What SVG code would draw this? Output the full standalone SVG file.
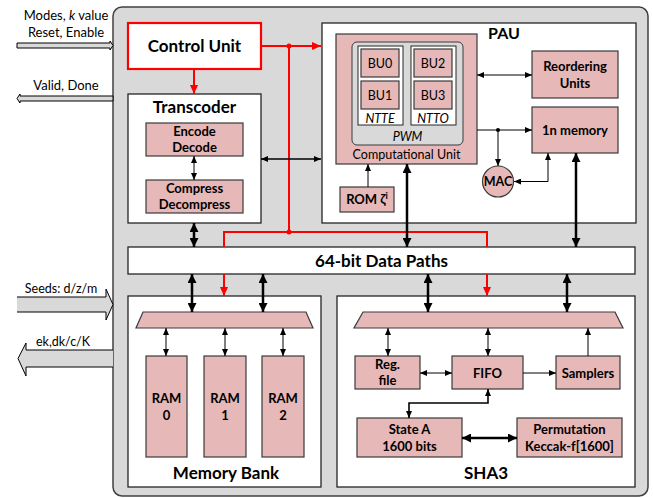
<svg xmlns="http://www.w3.org/2000/svg" width="653" height="498" viewBox="0 0 653 498">
<defs>
<marker id="a" markerUnits="userSpaceOnUse" markerWidth="7" markerHeight="6" refX="7" refY="3" orient="auto-start-reverse"><path d="M0,0 L7,3 L0,6 z" fill="#000"/></marker>
<marker id="ab" markerUnits="userSpaceOnUse" markerWidth="9" markerHeight="9" refX="9" refY="4.5" orient="auto-start-reverse"><path d="M0,0 L9,4.5 L0,9 z" fill="#000"/></marker>
<marker id="ar" markerUnits="userSpaceOnUse" markerWidth="9" markerHeight="8" refX="9" refY="4" orient="auto-start-reverse"><path d="M0,0 L9,4 L0,8 z" fill="#f00"/></marker>
</defs>
<style>
.bg{fill:#d9d9d9;stroke:#404040;stroke-width:1.5}
.wb{fill:#fff;stroke:#262626;stroke-width:1.3}
.pk{fill:#e6b8b7;stroke:#3a3a3a;stroke-width:1.2}
.t{font-family:Lato,"Liberation Sans",sans-serif;fill:#000;text-anchor:middle}
.b{font-weight:bold}
.big{font-size:17px;font-weight:bold}
.sm{font-size:13px;font-weight:bold}
.rg{font-size:12.5px}
.it{font-style:italic;font-size:12.5px}
.th{stroke:#000;stroke-width:1;fill:none}
.tk{stroke:#000;stroke-width:2.5;fill:none}
.md{stroke:#000;stroke-width:1.6;fill:none}
.rd{stroke:#f00;stroke-width:2;fill:none}
.io{fill:#d9d9d9;stroke:#000;stroke-width:1}
</style>

<g id="background">
<rect class="bg" x="113" y="7" width="535" height="489" rx="9"/>
</g>

<g id="io-arrows">
<path class="io" d="M17,43 H110 V41 L113,45.5 L110,50 V48 H17 z"/>
<text class="t rg" x="66" y="20" style="font-size:13px">Modes, <tspan font-style="italic">k</tspan> value</text>
<text class="t rg" x="66" y="37" style="font-size:13px">Reset, Enable</text>
<path class="io" d="M113,96 H20 V94 L17,98.5 L20,103 V101 H113 z"/>
<text class="t rg" x="66" y="90" style="font-size:13px">Valid, Done</text>
<path d="M17,297 H106 V289 L113,304.5 L106,320 V312 H17 z" fill="#d9d9d9"/>
<path class="th" d="M17,297 H106 V289 L113,304.5 L106,320 V312 H17"/>
<text class="t rg" x="61" y="293" style="font-size:12.5px">Seeds: d/z/m</text>
<path d="M113,350 H26 V343 L18,358.5 L26,376 V367 H113 z" fill="#d9d9d9"/>
<path class="th" d="M113,350 H26 V343 L18,358.5 L26,376 V367 H113"/>
<text class="t rg" x="63" y="346" style="font-size:12.5px">ek,dk/c/K</text>
</g>

<g id="control-unit">
<rect x="128" y="23" width="133" height="46" fill="#fff" stroke="#f00" stroke-width="2.2"/>
<text class="t big" x="194.5" y="52">Control Unit</text>
</g>

<g id="transcoder">
<rect class="wb" x="128" y="94" width="133" height="129"/>
<text class="t big" x="194.5" y="113">Transcoder</text>
<rect class="pk" x="146" y="123" width="97" height="33"/>
<text class="t sm" x="194.5" y="136">Encode</text>
<text class="t sm" x="194.5" y="152">Decode</text>
<rect class="pk" x="146" y="180" width="97" height="33"/>
<text class="t sm" x="194.5" y="193">Compress</text>
<text class="t sm" x="194.5" y="209">Decompress</text>
</g>

<g id="pau">
<rect class="wb" x="322" y="23" width="314" height="200"/>
<text class="t" x="504" y="39" style="font-size:16px;font-weight:bold">PAU</text>
</g>

<g id="computational-unit">
<rect class="pk" x="336" y="34" width="141" height="130"/>
<rect x="352" y="42" width="111" height="103" rx="5" fill="#d9d9d9" stroke="#3a3a3a" stroke-width="1"/>
<rect x="358" y="46" width="45" height="79" fill="#fff" stroke="#262626" stroke-width="1"/>
<rect x="411" y="46" width="45" height="79" fill="#fff" stroke="#262626" stroke-width="1"/>
<rect class="pk" x="361" y="49" width="38" height="28"/>
<rect class="pk" x="361" y="81" width="38" height="28"/>
<rect class="pk" x="414" y="49" width="38" height="28"/>
<rect class="pk" x="414" y="81" width="38" height="28"/>
<text class="t rg" x="380" y="67.5">BU0</text>
<text class="t rg" x="380" y="99.5">BU1</text>
<text class="t rg" x="433" y="67.5">BU2</text>
<text class="t rg" x="433" y="99.5">BU3</text>
<text class="t it" x="380" y="123">NTTE</text>
<text class="t it" x="433" y="123">NTTO</text>
<text class="t it" x="407.5" y="141">PWM</text>
<text class="t rg" x="406.5" y="158.5" style="font-size:12.5px">Computational Unit</text>
</g>

<g id="rom">
<rect class="pk" x="340" y="187" width="54" height="25"/>
<text class="t sm" x="367" y="204">ROM ζ<tspan font-size="9" dy="-5">i</tspan></text>
</g>

<g id="reordering">
<rect class="pk" x="532" y="51" width="86" height="47"/>
<text class="t sm" x="575" y="71">Reordering</text>
<text class="t sm" x="575" y="88">Units</text>
</g>

<g id="memory-1n">
<rect class="pk" x="532" y="107" width="86" height="46"/>
<text class="t sm" x="575" y="135">1n memory</text>
</g>

<g id="mac">
<circle class="pk" cx="498" cy="181.5" r="15.5" stroke-width="1.5"/>
<text class="t sm" x="498" y="186" style="font-size:12.5px">MAC</text>
</g>

<g id="data-paths">
<rect class="wb" x="128" y="247" width="507" height="27"/>
<text class="t big" x="381.5" y="266.5">64-bit Data Paths</text>
</g>

<g id="memory-bank">
<rect class="wb" x="128" y="296" width="193" height="191"/>
<path class="pk" d="M143,312 H306 L313,328 H136 z"/>
<rect class="pk" x="146" y="356" width="41" height="101"/>
<rect class="pk" x="204" y="356" width="42" height="101"/>
<rect class="pk" x="262" y="356" width="42" height="101"/>
<text class="t sm" x="166.5" y="403">RAM</text>
<text class="t sm" x="166.5" y="420">0</text>
<text class="t sm" x="225" y="403">RAM</text>
<text class="t sm" x="225" y="420">1</text>
<text class="t sm" x="283" y="403">RAM</text>
<text class="t sm" x="283" y="420">2</text>
<text class="t big" x="226" y="479">Memory Bank</text>
</g>

<g id="sha3">
<rect class="wb" x="337" y="296" width="298" height="191"/>
<path class="pk" d="M363,312 H615 L623,328 H354 z"/>
<rect class="pk" x="355" y="356" width="65" height="33"/>
<text class="t sm" x="387.5" y="369">Reg.</text>
<text class="t sm" x="387.5" y="385">file</text>
<rect class="pk" x="452" y="356" width="71" height="33"/>
<text class="t sm" x="487.5" y="377.5">FIFO</text>
<rect class="pk" x="556" y="356" width="64" height="33"/>
<text class="t sm" x="588" y="377.5">Samplers</text>
<rect class="pk" x="357" y="418" width="105" height="39"/>
<text class="t sm" x="409.5" y="434">State A</text>
<text class="t sm" x="409.5" y="451">1600 bits</text>
<rect class="pk" x="517" y="418" width="105" height="39"/>
<text class="t sm" x="569.5" y="434">Permutation</text>
<text class="t sm" x="569.5" y="451">Keccak-f[1600]</text>
<text class="t big" x="486" y="479">SHA3</text>
</g>

<g id="connectors">
<path class="rd" d="M261,46 H321" marker-end="url(#ar)"/>
<path class="rd" d="M289,46 V232"/>
<path class="rd" d="M224,247 V232 H487 V247"/>
<circle cx="289" cy="46" r="2.5" fill="#f00"/>
<circle cx="289" cy="232" r="2.5" fill="#f00"/>
<path class="rd" d="M194,69 V94" marker-end="url(#ar)"/>
<path class="rd" d="M224,274 V296" marker-end="url(#ar)"/>
<path class="rd" d="M487,274 V296" marker-end="url(#ar)"/>

<path class="tk" d="M194,223 V247" marker-start="url(#ab)" marker-end="url(#ab)"/>
<path class="tk" d="M407,164 V247" marker-start="url(#ab)" marker-end="url(#ab)"/>
<path class="tk" d="M576,153 V247" marker-start="url(#ab)" marker-end="url(#ab)"/>
<path class="tk" d="M192,274 V312" marker-start="url(#ab)" marker-end="url(#ab)"/>
<path class="tk" d="M263,274 V312" marker-start="url(#ab)" marker-end="url(#ab)"/>
<path class="tk" d="M428,274 V312" marker-start="url(#ab)" marker-end="url(#ab)"/>
<path class="tk" d="M567,274 V312" marker-start="url(#ab)" marker-end="url(#ab)"/>
<path class="tk" d="M462,438 H517" marker-start="url(#ab)" marker-end="url(#ab)"/>

<path class="md" d="M261,159 H321" marker-start="url(#a)" marker-end="url(#a)"/>
<path class="th" d="M194,156 V180" marker-start="url(#a)" marker-end="url(#a)"/>
<path class="th" d="M477,75 H532" marker-start="url(#a)" marker-end="url(#a)"/>
<path class="th" d="M477,130 H532" marker-end="url(#a)"/>
<circle cx="498" cy="130" r="2" fill="#000"/>
<path class="th" d="M498,130 V166" marker-end="url(#a)"/>
<path class="th" d="M514,181.5 H548 V153" marker-start="url(#a)" marker-end="url(#a)"/>
<path class="th" d="M368,187 V164" marker-end="url(#a)"/>

<path class="th" d="M166,328 V356" marker-start="url(#a)" marker-end="url(#a)"/>
<path class="th" d="M225,328 V356" marker-start="url(#a)" marker-end="url(#a)"/>
<path class="th" d="M283,328 V356" marker-start="url(#a)" marker-end="url(#a)"/>
<path class="th" d="M388,328 V356" marker-start="url(#a)" marker-end="url(#a)"/>
<path class="th" d="M488,328 V356" marker-start="url(#a)" marker-end="url(#a)"/>
<path class="th" d="M588,356 V328" marker-end="url(#a)"/>
<path class="th" d="M420,373 H452" marker-start="url(#a)" marker-end="url(#a)"/>
<path class="th" d="M523,373 H556" marker-end="url(#a)"/>
<path class="md" d="M488,389 V403 H409 V418" marker-start="url(#a)" marker-end="url(#a)"/>
</g>
</svg>
